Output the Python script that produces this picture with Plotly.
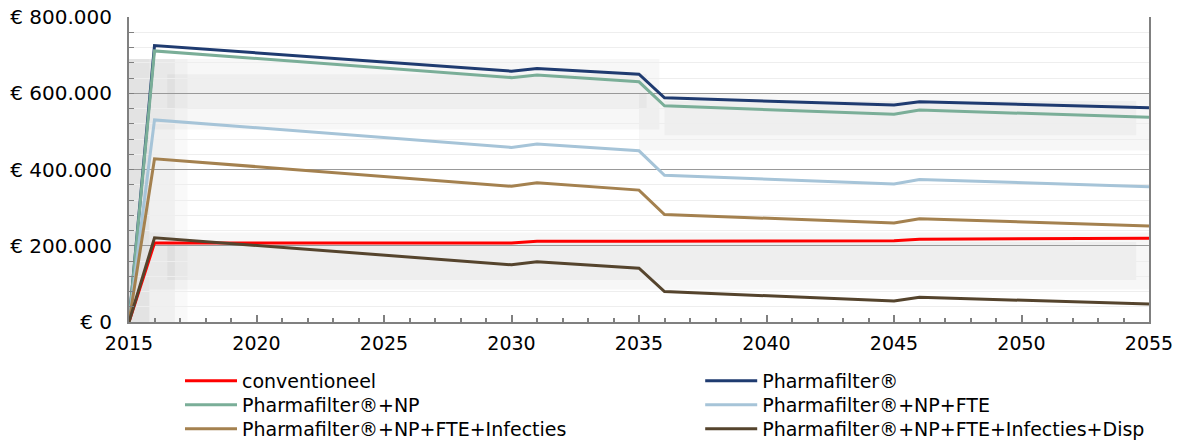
import plotly.graph_objects as go

years = [2015, 2016, 2030, 2031, 2035, 2036, 2045, 2046, 2055]

conventioneel = [0, 207000, 207000, 212000, 212000, 212000, 213000, 217000, 220000]
pharmafilter = [0, 725000, 658000, 665000, 650000, 588000, 569000, 578000, 562000]
pf_np = [0, 711000, 641000, 648000, 630000, 567000, 545000, 556000, 537000]
pf_np_fte = [0, 530000, 458000, 467000, 449000, 385000, 362000, 374000, 355000]
pf_np_fte_inf = [0, 428000, 356000, 365000, 346000, 282000, 260000, 271000, 252000]
pf_np_fte_inf_disp = [0, 221000, 150000, 158000, 141000, 80000, 55000, 65000, 47000]

series_names = [
    "conventioneel",
    "Pharmafilter®",
    "Pharmafilter®+NP",
    "Pharmafilter®+NP+FTE",
    "Pharmafilter®+NP+FTE+Infecties",
    "Pharmafilter®+NP+FTE+Infecties+Disp",
]
series_values = [conventioneel, pharmafilter, pf_np, pf_np_fte, pf_np_fte_inf, pf_np_fte_inf_disp]
series_colors = ["#ff0000", "#1f3b70", "#7aae98", "#a6c4d8", "#a4814f", "#55442d"]

y_tickvals = [0, 200000, 400000, 600000, 800000]
y_ticktext = ["€ 0", "€ 200.000", "€ 400.000", "€ 600.000", "€ 800.000"]

legend_ids = ["legend", "legend2", "legend3", "legend4", "legend5", "legend6"]
legend_cols = [0.05, 0.56]
legend_rows = [-0.131, -0.2098, -0.2885]

fig = go.Figure()
for i, (name, vals, col) in enumerate(zip(series_names, series_values, series_colors)):
    fig.add_trace(go.Scatter(x=years, y=vals, name=name, mode="lines", legend=legend_ids[i],
                             line=dict(color=col, width=3)))

# soft grey background bands (decorative shading of the original)
bands = [
    (2015.8, 2035.8, 505000, 690000, 0.03),
    (2016.5, 2035.3, 560000, 650000, 0.03),
    (2035.0, 2055, 450000, 600000, 0.03),
    (2036.0, 2054.5, 490000, 580000, 0.03),
    (2015.8, 2055, 85000, 235000, 0.03),
    (2016.5, 2054.5, 110000, 210000, 0.035),
    (2015, 2017.3, 0, 690000, 0.025),
    (2015, 2016.8, 0, 690000, 0.035),
    (2015, 2015.8, 0, 690000, 0.05),
]
for x0, x1, y0, y1, op in bands:
    fig.add_shape(type="rect", xref="x", yref="y", x0=x0, x1=x1, y0=y0, y1=y1,
                  fillcolor=f"rgba(0,0,0,{op})", line_width=0, layer="below")

legend_layout = {}
for i, lid in enumerate(legend_ids):
    legend_layout[lid] = dict(orientation="v", yanchor="top", y=legend_rows[i // 2],
                              xanchor="left", x=legend_cols[i % 2],
                              font=dict(size=19), itemwidth=52, tracegroupgap=0,
                              bgcolor="rgba(0,0,0,0)", borderwidth=0)

fig.update_layout(
    width=1178, height=441,
    margin=dict(l=129, r=29, t=17, b=119, autoexpand=False),
    paper_bgcolor="white", plot_bgcolor="white",
    font=dict(family="DejaVu Sans", size=19, color="black"),
    showlegend=True,
    **legend_layout,
)
fig.update_xaxes(range=[2015, 2055], dtick=5, tick0=2015,
                 showgrid=False, zeroline=False,
                 showline=True, linecolor="#808080", linewidth=2,
                 ticks="inside", ticklen=7, tickcolor="#808080", tickwidth=1.5,
                 minor=dict(dtick=1, ticks="inside", ticklen=4, tickcolor="#808080", showgrid=False),
                 ticklabelstandoff=3)
fig.update_yaxes(range=[0, 800000], tickvals=y_tickvals, ticktext=y_ticktext,
                 showgrid=True, gridcolor="#999999", gridwidth=1, zeroline=False,
                 showline=True, linecolor="#808080", linewidth=2, mirror=True,
                 ticks="inside", ticklen=5, tickcolor="#808080",
                 minor=dict(tickvals=[v for v in range(0, 800001, 40000)], ticks="inside",
                            ticklen=5, tickcolor="#808080", showgrid=True,
                            gridcolor="#eeeeee", gridwidth=1),
                 tickfont=dict(size=20), ticklabelstandoff=11)

fig.write_html("out.html", config={"displayModeBar": False},
               post_script="document.body.style.margin='0px';")
